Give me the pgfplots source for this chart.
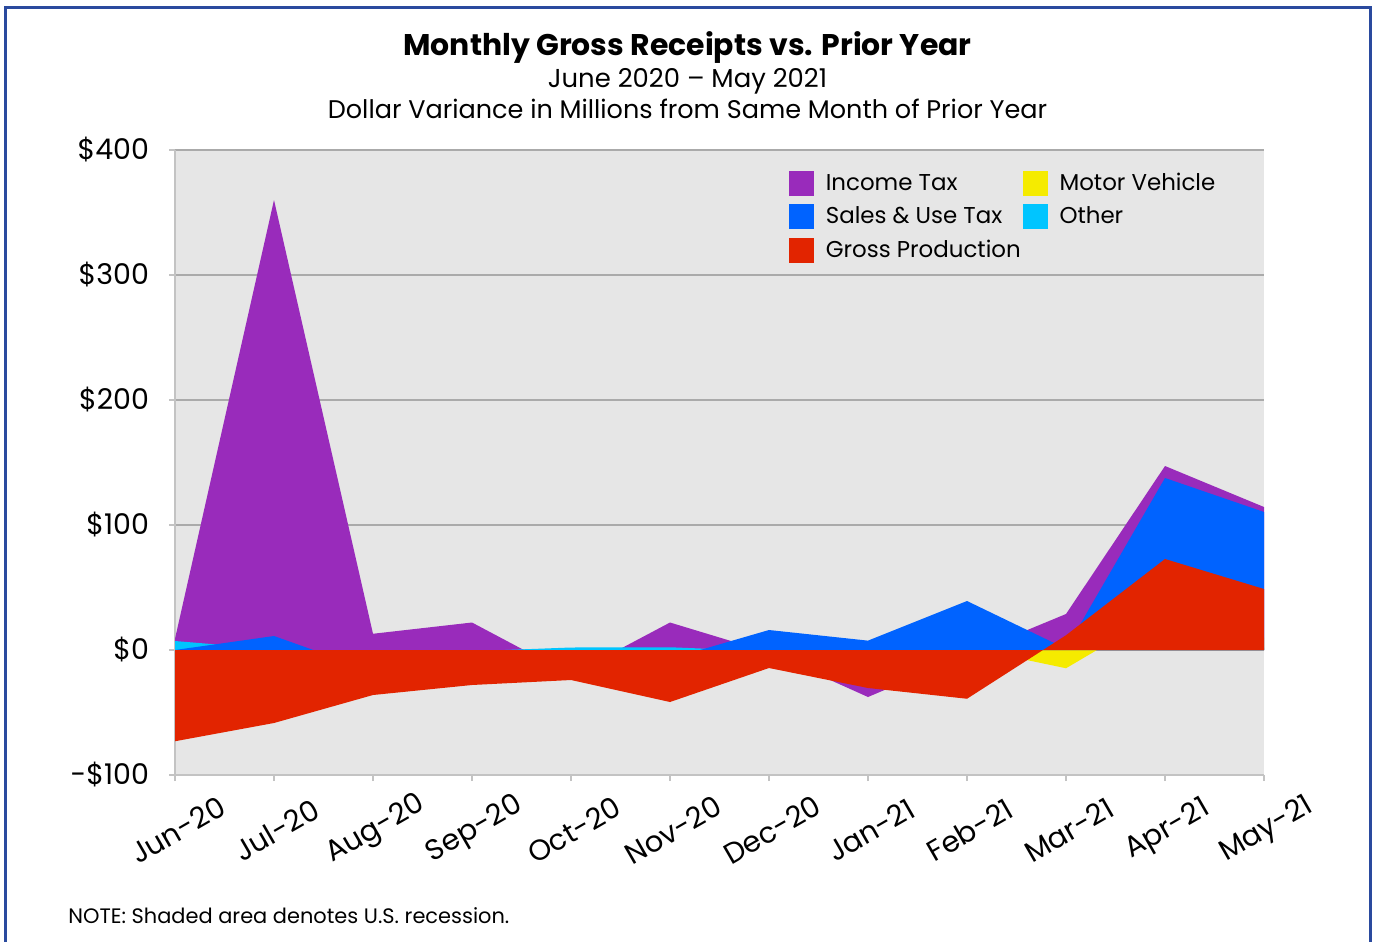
\documentclass[border=0pt]{standalone}
\usepackage{pgfplots}
\pgfplotsset{compat=1.18}
\usepackage{fontspec}
\setmainfont{Poppins}
\definecolor{itcol}{RGB}{153,43,187}
\definecolor{sucol}{RGB}{0,99,255}
\definecolor{gpcol}{RGB}{226,36,0}
\definecolor{mvcol}{RGB}{245,235,0}
\definecolor{otcol}{RGB}{0,197,255}
\definecolor{bgcol}{RGB}{230,230,230}
\definecolor{gridcol}{RGB}{170,170,170}
\definecolor{framecol}{RGB}{42,74,158}
\begin{document}
\begin{tikzpicture}
\useasboundingbox (0,0) rectangle (687bp,-471bp);
\draw[framecol, line width=1.5bp] (2.5bp,-480bp) -- (2.5bp,-3.5bp) -- (685bp,-3.5bp) -- (685bp,-480bp);
\node[anchor=base, font=\bfseries\fontsize{15}{17}\selectfont] at (343.75bp,-27.5bp) {Monthly Gross Receipts vs. Prior Year};
\node[anchor=base, font=\fontsize{13}{15}\selectfont] at (343.75bp,-43.5bp) {June 2020 – May 2021};
\node[anchor=base, font=\fontsize{12.8}{15}\selectfont] at (343.75bp,-59bp) {Dollar Variance in Millions from Same Month of Prior Year};
\node[anchor=base west, font=\fontsize{10.5}{12}\selectfont, inner sep=0pt] at (34bp,-461.5bp) {NOTE: Shaded area denotes U.S. recession.};
\begin{axis}[
  at={(87.5bp,-387.5bp)}, anchor=south west,
  scale only axis, width=544.5bp, height=312.5bp,
  xmin=0, xmax=11, ymin=-100, ymax=400,
  axis background/.style={fill=bgcol},
  axis x line*=bottom, axis y line*=left,
  axis line style={draw=gridcol!70, line width=0.8bp},
  ytick={-100,0,100,200,300,400},
  yticklabels={-\$100,\$0,\$100,\$200,\$300,\$400},
  xtick={0,...,11},
  xticklabels={Jun-20,Jul-20,Aug-20,Sep-20,Oct-20,Nov-20,Dec-20,Jan-21,Feb-21,Mar-21,Apr-21,May-21},
  ymajorgrids, grid style={draw=gridcol, line width=0.6bp},
  tick style={draw=gridcol!70, line width=0.6bp},
  major tick length=3bp,
  xtick pos=bottom, ytick pos=left,
  tick align=outside,
  yticklabel style={font=\fontsize{14.3}{16}\selectfont, anchor=east, xshift=-6.5bp},
  xticklabel style={font=\fontsize{14.5}{16}\selectfont, rotate=30, anchor=center, xshift=-11bp, yshift=-22bp},
  legend columns=2,
  legend style={at={(0.558,0.976)}, anchor=north west, draw=none, fill=none,
    font=\fontsize{11.5}{13}\selectfont, row sep=2.5bp,
    /tikz/every odd column/.append style={column sep=4bp},
    /tikz/every even column/.append style={column sep=-1bp}},
  legend cell align=left,
  legend image code/.code={\fill[#1] (0bp,-6bp) rectangle (12bp,6bp);},
]
% Income Tax
\addplot[fill=itcol, draw=none, forget plot] coordinates {
(0,9) (1,360) (2,13) (3,22) (4,-20) (5,22) (6,-2) (7,-37.6) (8,-4) (9,28.8) (10,147.2) (11,114.4)} \closedcycle;
% Other
\addplot[fill=otcol, draw=none, forget plot] coordinates {
(0,7.2) (1,0.6) (2,-1) (3,-1) (4,2) (5,2.2) (6,-1) (7,1) (8,1) (9,2) (10,3) (11,2)} \closedcycle;
% Motor Vehicle
\addplot[fill=mvcol, draw=none, forget plot] coordinates {
(0,-3) (1,-2) (2,-1) (3,-1) (4,-2) (5,-1) (6,-2) (7,-3) (8,2) (9,-14.6) (10,32) (11,10)} \closedcycle;
% Sales & Use Tax
\addplot[fill=sucol, draw=none, forget plot] coordinates {
(0,0) (1,11.2) (2,-17) (3,-10) (4,-5) (5,-7) (6,16) (7,7.5) (8,39.2) (9,1) (10,137.6) (11,110.4)} \closedcycle;
% Gross Production
\addplot[fill=gpcol, draw=none, forget plot] coordinates {
(0,-73) (1,-58.4) (2,-36) (3,-28) (4,-24) (5,-41.6) (6,-14.4) (7,-30.4) (8,-39) (9,11.8) (10,72.8) (11,48.8)} \closedcycle;
\addlegendimage{itcol}\addlegendentry{Income Tax}
\addlegendimage{mvcol}\addlegendentry{Motor Vehicle}
\addlegendimage{sucol}\addlegendentry{Sales \& Use Tax}
\addlegendimage{otcol}\addlegendentry{Other}
\addlegendimage{gpcol}\addlegendentry{Gross Production}
\end{axis}
\end{tikzpicture}
\end{document}
